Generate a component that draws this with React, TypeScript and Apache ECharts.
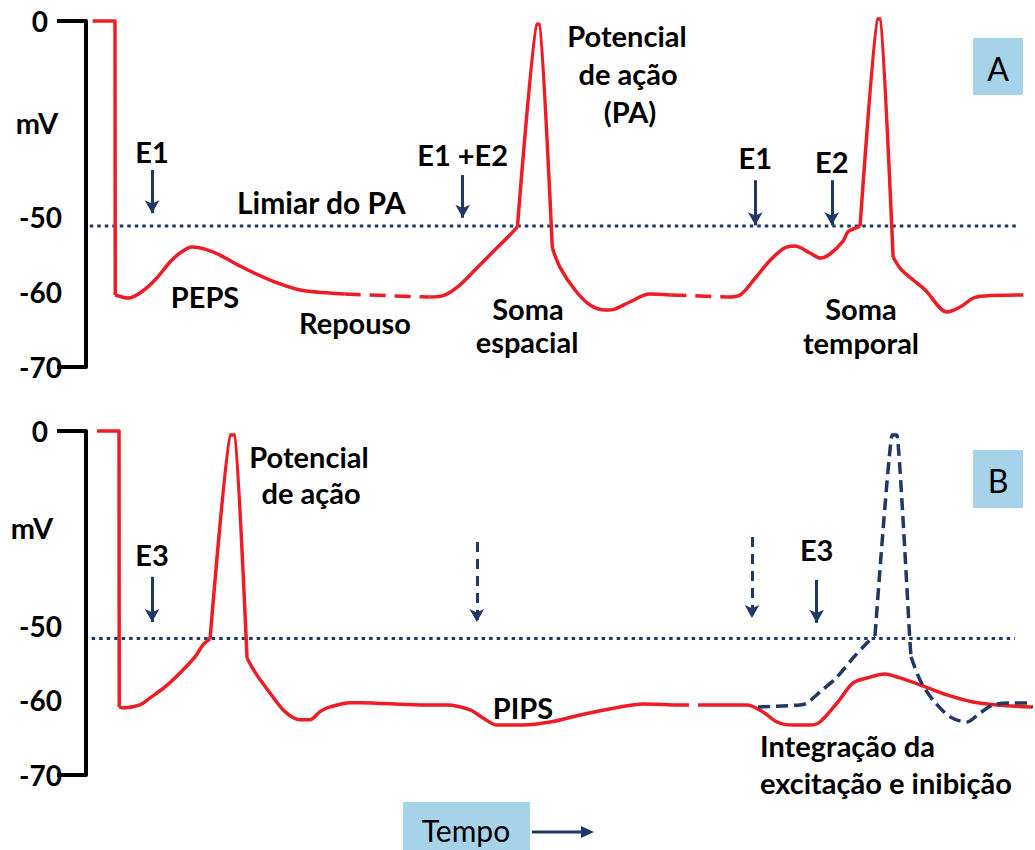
import React, { useEffect, useRef } from "react";
import * as echarts from "echarts";

// ---- scale helper: the picture's mV axis is compressed above -50 mV ----
const K = 0.523;
const T = (v: number) => (v <= -50 ? v : -50 + (v + 50) * K);
const Y_MAX = T(0);

const RED = "#ee1c25";
const NAVY = "#1f3864";
const FONT = "Lato";

// ---- y axis ticks / labels (mV) ----
const yLabelValues = [-70, -60, -50, 0];
const yTickValues = [-70, 0];

// ---- Panel A trace (time, mV) ----
const aStep = [[0.7, 0], [3.07, 0], [3.1, -60.4]];
const aSeg1 = [[3.1, -60.4], [4.45, -60.8], [5.72, -60.13], [7.31, -58.4], [8.9, -56.0], [9.96, -54.8], [11.23, -54.0], [12.6, -54.27], [14.2, -55.07], [16.3, -56.53], [19.5, -58.4], [22.7, -59.73], [25.8, -60.13], [27.4, -60.27]];
const aGap1 = [[27.4, -60.27], [32.2, -60.5], [36.4, -60.67]];
const aSeg2 = [[36.4, -60.67], [38.0, -60.4], [39.6, -59.07], [41.2, -57.07], [43.3, -54.4], [44.9, -52.4], [45.7, -51.3]];
const aSpike1 = [[45.7, -51.3], [47.7, -0.8], [48.1, -0.8], [49.4, -54.13]];
const aSeg2b = [[49.4, -54.13], [50.2, -56.67], [51.8, -59.73], [53.4, -61.73], [55.0, -62.4], [56.0, -62.27], [57.6, -61.33], [59.7, -60.27], [61.9, -60.4]];
const aGap2 = [[61.9, -60.4], [65.0, -60.53], [67.9, -60.67]];
const aSeg3 = [[67.9, -60.67], [69.3, -60.4], [70.9, -58.13], [72.5, -55.73], [74.0, -54.13], [75.1, -53.87], [76.7, -54.8], [77.8, -55.47], [78.8, -54.93], [80.2, -53.2], [80.7, -52.0], [81.8, -51.33], [82.0, -51.2]];
const aSpike2 = [[82.0, -51.2], [83.8, 0.5], [84.2, 0.5], [85.5, -55.33]];
const aSeg3b = [[85.5, -55.33], [86.4, -57.07], [88.9, -59.73], [91.2, -62.67], [92.6, -62.0], [94.0, -60.8], [95.2, -60.53], [99.3, -60.4]];
const aThreshold = [[0.4, -51.2], [98.9, -51.2]];

// ---- Panel B traces ----
const bStep = [[1.17, 0], [3.5, 0], [3.52, -60.87]];
const bSeg1 = [[3.52, -60.87], [3.92, -61.0], [5.72, -60.6], [6.78, -59.66], [8.37, -58.19], [9.96, -56.31], [11.55, -54.16], [12.39, -52.55], [13.14, -51.74]];
const bSpike = [[13.14, -51.74], [15.25, -1.0], [15.8, -1.0], [17.06, -54.3]];
const bSeg1b = [[17.06, -54.3], [17.9, -56.2], [19.49, -59.0], [21.08, -61.5], [22.67, -62.6], [23.73, -62.6], [24.79, -61.5], [25.85, -60.87], [27.97, -60.3], [29.03, -60.3], [35.38, -60.6], [38.24, -60.6], [40.68, -61.27], [42.06, -62.35], [43.54, -63.3], [46.29, -63.3], [49.15, -62.9], [52.33, -61.95], [56.57, -60.87], [59.0, -60.47], [62.18, -60.6]];
const bGap = [[62.18, -60.6], [64.3, -60.6], [66.42, -60.6]];
const bSeg2 = [[66.42, -60.6], [70.02, -60.6], [71.72, -61.54], [73.2, -62.89], [74.9, -63.3], [76.7, -63.3], [77.75, -62.89], [79.56, -60.34], [81.25, -57.65], [82.73, -56.98], [84.64, -56.44], [86.23, -56.98], [88.35, -57.9], [91.2, -59.26], [93.96, -60.2], [96.5, -60.6], [100.3, -60.87]];
const bExcitRise = [[71.19, -60.87], [75.64, -60.6], [76.38, -60.34], [77.75, -58.86], [79.56, -56.85], [81.25, -54.3], [82.73, -52.3], [83.58, -51.34]];
const bExcitSpike = [[83.58, -51.34], [85.4, -1.0], [85.9, -1.0], [87.29, -52.3], [87.4, -54.16]];
const bExcitFall = [[87.4, -54.16], [88.35, -57.25], [89.72, -59.93], [91.53, -62.2], [93.33, -62.89], [94.7, -61.68], [96.08, -60.6], [97.88, -60.34], [99.68, -60.34], [100.3, -60.87]];
const bThreshold = [[0.6, -51.7], [98.4, -51.7]];

// ---- stimulus arrows: time, arrow top (mV), arrow tip (mV), label ----
const aStimT = [7.0, 39.9, 70.9, 79.0];
const aStimTop = [-38.0, -39.3, -40.6, -40.6];
const aStimTip = [-49.0, -50.1, -51.1, -51.1];
const aStimLabel = ["E1", "E1 +E2", "E1", "E2"];
const aStimDist = [4, 6, 8, 4];
const aStimDashed = [false, false, false, false];

const bStimT = [7.0, 41.4, 70.55, 77.4];
const bStimTop = [-37.4, -28.5, -27.2, -38.2];
const bStimTip = [-49.0, -49.0, -48.0, -49.2];
const bStimLabel = ["E3", "", "", "E3"];
const bStimDist = [8, 4, 4, 16];
const bStimDashed = [false, true, true, false];

const tr = (d: number[][]) => d.map(([t, v]) => [t, T(v)]);

function lineSeries(idx: number, data: number[][], color: string, type: any, width = 3.5, smooth: any = false) {
  return {
    type: "line",
    xAxisIndex: idx,
    yAxisIndex: idx,
    data: tr(data),
    symbol: "none",
    showSymbol: false,
    clip: false,
    silent: true,
    smooth,
    lineStyle: { color, width, type, cap: "butt", join: "round" },
    z: 3,
  };
}

function arrows(t: number[], top: number[], tip: number[], labels: string[], dist: number[], dashed: boolean[]) {
  return t.map((x, i) => [
    {
      coord: [x, T(top[i])],
      name: labels[i],
      lineStyle: { type: dashed[i] ? [10, 7] : "solid" },
      label: { distance: dist[i] },
    },
    { coord: [x, T(tip[i])] },
  ]);
}

function thresholdSeries(idx: number, data: number[][], marks: any[]) {
  return {
    ...lineSeries(idx, data, NAVY, [3.5, 4], 3),
    z: 2,
    markLine: {
      silent: true,
      animation: false,
      symbol: ["none", "arrow"],
      symbolSize: [11, 13],
      lineStyle: { color: NAVY, width: 3 },
      label: {
        show: true,
        position: "start",
        formatter: "{b}",
        color: "#000",
        fontFamily: FONT,
        fontWeight: "bold",
        fontSize: 29,
      },
      data: marks,
    },
  };
}

function yAxis(idx: number) {
  return {
    gridIndex: idx,
    type: "value",
    min: -70,
    max: Y_MAX,
    axisLine: { show: true, onZero: false, lineStyle: { color: "#000", width: 4 } },
    axisTick: {
      show: true,
      customValues: yTickValues.map(T),
      length: 29,
      lineStyle: { color: "#000", width: 4 },
    },
    axisLabel: {
      show: true,
      customValues: yLabelValues.map(T),
      margin: 24,
      color: "#000",
      fontFamily: FONT,
      fontWeight: "bold",
      fontSize: 28,
      formatter: (v: number) => (Math.abs(v - Y_MAX) < 1e-6 ? "{z|0}" : String(Math.round(v))),
      rich: {
        z: { fontFamily: FONT, fontWeight: "bold", fontSize: 28, color: "#000", padding: [0, 14, 0, 0] },
      },
    },
    splitLine: { show: false },
  };
}

function txt(x: number, y: number, s: string, align = "center", weight = "bold", size = 29) {
  return {
    type: "text",
    x,
    y,
    silent: true,
    z: 10,
    style: {
      text: s,
      fill: "#000",
      fontFamily: FONT,
      fontWeight: weight,
      fontSize: size,
      textAlign: align,
      textVerticalAlign: "middle",
    },
  };
}

const SM = 0.3;
const SP = 0.12;

export default function App() {
  const ref = useRef<HTMLDivElement>(null);
  useEffect(() => {
    if (!ref.current) return;
    const chart = echarts.init(ref.current, undefined, { renderer: "svg" });
    const option: any = {
      animation: false,
      backgroundColor: "#fff",
      grid: [
        { left: 86, top: 21, width: 944, height: 346 },
        { left: 86, top: 431, width: 944, height: 344 },
      ],
      xAxis: [
        { gridIndex: 0, type: "value", min: 0, max: 100, show: false },
        { gridIndex: 1, type: "value", min: 0, max: 100, show: false },
      ],
      yAxis: [yAxis(0), yAxis(1)],
      series: [
        thresholdSeries(0, aThreshold, arrows(aStimT, aStimTop, aStimTip, aStimLabel, aStimDist, aStimDashed)),
        lineSeries(0, aStep, RED, "solid"),
        lineSeries(0, aSeg1, RED, "solid", 3.5, SM),
        lineSeries(0, aGap1, RED, [16, 9]),
        lineSeries(0, aSeg2, RED, "solid", 3.5, SM),
        lineSeries(0, aSpike1, RED, "solid", 3.5, SP),
        lineSeries(0, aSeg2b, RED, "solid", 3.5, SM),
        lineSeries(0, aGap2, RED, [16, 9]),
        lineSeries(0, aSeg3, RED, "solid", 3.5, SM),
        lineSeries(0, aSpike2, RED, "solid", 3.5, SP),
        lineSeries(0, aSeg3b, RED, "solid", 3.5, SM),
        thresholdSeries(1, bThreshold, arrows(bStimT, bStimTop, bStimTip, bStimLabel, bStimDist, bStimDashed)),
        lineSeries(1, bStep, RED, "solid"),
        lineSeries(1, bSeg1, RED, "solid", 3.5, SM),
        lineSeries(1, bSpike, RED, "solid", 3.5, SP),
        lineSeries(1, bSeg1b, RED, "solid", 3.5, SM),
        lineSeries(1, bGap, RED, [16, 9]),
        lineSeries(1, bSeg2, RED, "solid", 3.5, SM),
        lineSeries(1, bExcitRise, NAVY, [12, 6], 3.5, SM),
        lineSeries(1, bExcitSpike, NAVY, [12, 6], 3.5, SP),
        lineSeries(1, bExcitFall, NAVY, [12, 6], 3.5, SM),
      ],
      graphic: [
        // panel A
        txt(37, 122, "mV"),
        txt(237, 202, "Limiar do PA", "left", "bold", 30),
        txt(205, 296, "PEPS"),
        txt(355, 322, "Repouso"),
        txt(627, 35, "Potencial"),
        txt(628, 73, "de ação"),
        txt(630, 111, "(PA)"),
        txt(528, 308, "Soma"),
        txt(527, 341, "espacial"),
        txt(861, 308, "Soma"),
        txt(861, 342, "temporal"),
        { type: "rect", shape: { x: 973, y: 38, width: 50, height: 57 }, style: { fill: "#a6d3e9" }, z: 5 },
        txt(998, 68, "A", "center", "normal", 32),
        // panel B
        txt(32, 527, "mV"),
        txt(309, 456, "Potencial"),
        txt(311, 492, "de ação"),
        txt(523, 707, "PIPS"),
        txt(760, 745, "Integração da", "left"),
        txt(760, 782, "excitação e inibição", "left"),
        { type: "rect", shape: { x: 973, y: 450, width: 50, height: 58 }, style: { fill: "#a6d3e9" }, z: 5 },
        txt(998, 480, "B", "center", "normal", 32),
        // time axis
        { type: "rect", shape: { x: 403, y: 802, width: 127, height: 48 }, style: { fill: "#a6d3e9" }, z: 5 },
        txt(466, 830, "Tempo", "center", "normal", 30),
        { type: "line", shape: { x1: 532, y1: 832, x2: 585, y2: 832 }, style: { stroke: NAVY, lineWidth: 3 }, z: 5 },
        { type: "polygon", shape: { points: [[594, 832], [581, 826], [581, 838]] }, style: { fill: NAVY }, z: 5 },
      ],
    };
    chart.setOption(option);
    return () => chart.dispose();
  }, []);
  return (
    <div
      ref={ref}
      style={{ position: "absolute", left: 0, top: 0, width: 1035, height: 850, background: "#fff" }}
    />
  );
}
